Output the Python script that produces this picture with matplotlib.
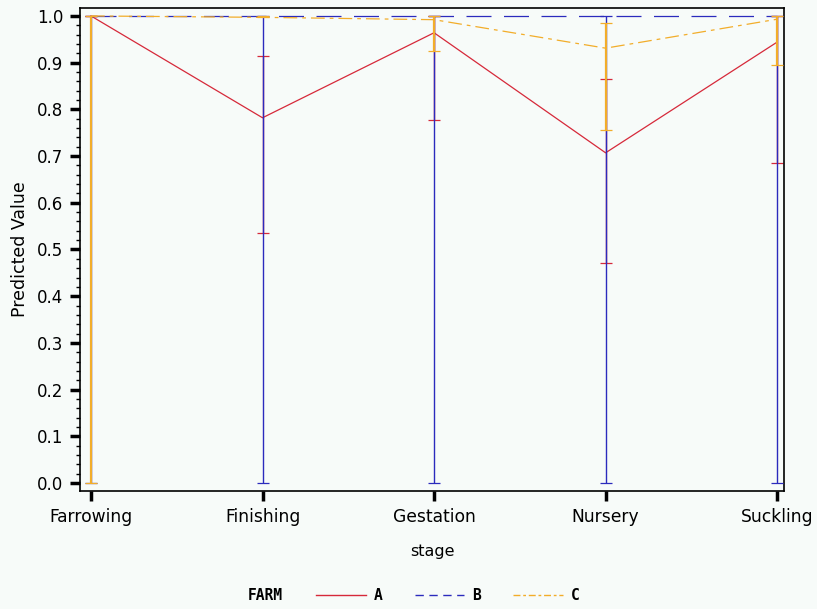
import numpy as np
import matplotlib.pyplot as plt
from matplotlib.ticker import MultipleLocator
from matplotlib.lines import Line2D

plt.rcParams['font.family'] = ['DejaVu Sans']

# predicted values by stage for each farm
stages = ['Farrowing', 'Finishing', 'Gestation', 'Nursery', 'Suckling']
farm_a = [1.0, 0.782, 0.964, 0.707, 0.944]
farm_a_lo = [1.0, 0.535, 0.778, 0.471, 0.685]
farm_a_hi = [1.0, 0.915, 1.0, 0.865, 1.0]
farm_b = [1.0, 1.0, 1.0, 1.0, 1.0]
farm_b_lo = [0.0, 0.0, 0.0, 0.0, 0.0]
farm_b_hi = [1.0, 1.0, 1.0, 1.0, 1.0]
farm_c = [1.0, 0.997, 0.992, 0.931, 0.993]
farm_c_lo = [0.0, 0.997, 0.925, 0.756, 0.895]
farm_c_hi = [1.0, 0.999, 1.0, 0.985, 1.0]

red = '#d6293a'
blue = '#2b2bbd'
orange = '#f2ad2a'
bg = '#f7fbf9'

fig = plt.figure(figsize=(8.17, 6.09), dpi=100, facecolor=bg)
ax = fig.add_axes([80/817, 1-491/609, 704/817, 483/609], facecolor=bg)

x = np.arange(len(stages))

def draw(vals, lo, hi, color, ls, z, elw=1.0):
    vals = np.array(vals)
    yerr = [vals - np.array(lo), np.array(hi) - vals]
    ax.errorbar(x, vals, yerr=yerr, color=color, ls=ls, lw=0.9,
                elinewidth=elw, capsize=4, capthick=0.9, zorder=z)

draw(farm_a, farm_a_lo, farm_a_hi, red, '-', 2)
draw(farm_b, farm_b_lo, farm_b_hi, blue, (0, (20, 10)), 3)
draw(farm_c, farm_c_lo, farm_c_hi, orange, (0, (11, 4, 3, 4)), 4, elw=1.6)

ax.set_xlim(-0.064, 4.04)
ax.set_ylim(-0.017, 1.017)
ax.set_xticks(x)
ax.set_xticklabels(stages, fontsize=12.3)
ax.yaxis.set_minor_locator(MultipleLocator(0.02))
ax.set_yticks(np.arange(0, 1.01, 0.1))
ax.set_yticklabels([f'{v:.1f}' for v in np.arange(0, 1.01, 0.1)], fontsize=12)
ax.tick_params(axis='both', which='major', direction='out', length=7, width=2.5, pad=5)
ax.tick_params(axis='y', which='minor', direction='out', length=3, width=1)
for s in ax.spines.values():
    s.set_linewidth(1.2)
ax.set_xlabel('stage', fontsize=11.5, labelpad=13)
ax.set_ylabel('Predicted Value', fontsize=12.5, labelpad=6)

# legend row
fig.text(248/817, 1-596/609, 'FARM', fontsize=10.5, fontweight='bold',
         family='DejaVu Sans Mono', va='center')
handles = [Line2D([], [], color=red, lw=1),
           Line2D([], [], color=blue, lw=1, ls=(0, (6, 4))),
           Line2D([], [], color=orange, lw=1, ls=(0, (5, 2, 2, 2)))]
leg = fig.legend(handles, ['A', 'B', 'C'], ncol=3, loc='center',
                 bbox_to_anchor=(448/817, 1-596/609), frameon=False,
                 handlelength=3.4, columnspacing=2.2, handletextpad=0.55,
                 prop={'family': 'DejaVu Sans Mono', 'weight': 'bold', 'size': 10.5})

fig.savefig('out.png', dpi=100, facecolor=bg)
